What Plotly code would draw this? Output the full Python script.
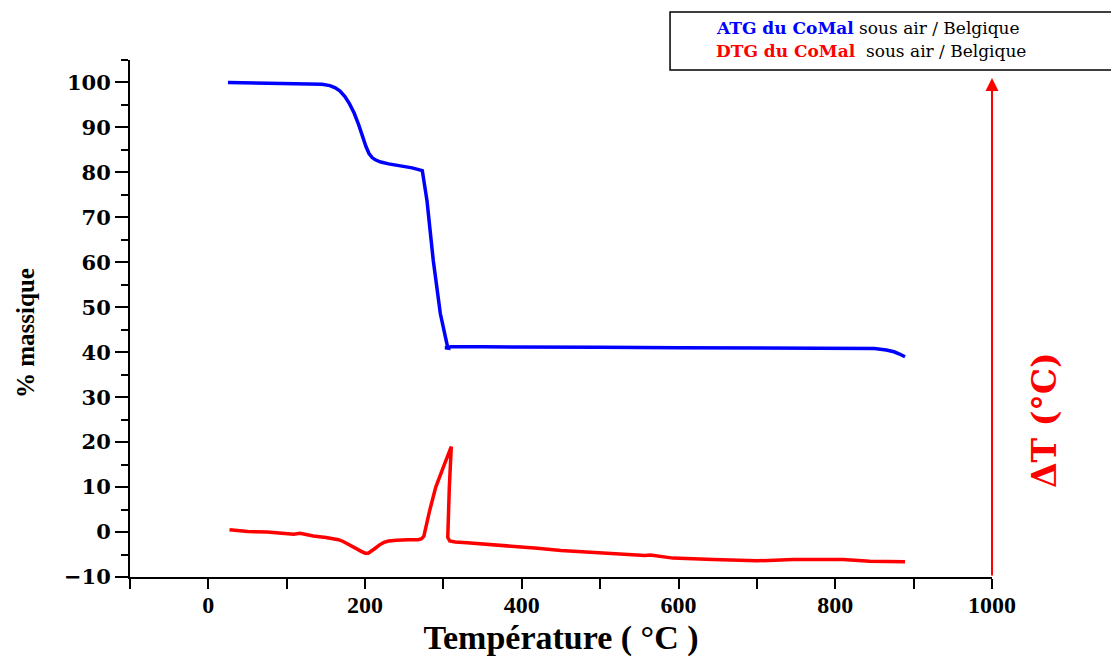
import plotly.graph_objects as go

# ATG (mass %) vs temperature
atg_T = [25, 60, 100, 134, 145, 155, 162, 168, 174, 180, 186, 192, 197, 201, 205, 209, 213, 220, 230,
         245, 260, 273, 279, 287, 296, 305, 306, 302, 310, 350, 400, 500, 600, 700, 800, 850, 865, 875, 882, 889]
atg_v = [100.0, 99.9, 99.9, 99.8, 99.6, 99.3, 98.8, 98.1, 96.9, 95.3, 93.2, 90.5, 87.8, 85.8, 84.2, 83.3, 82.8, 82.3, 81.9,
         81.5, 81.0, 80.4, 73.7, 60.4, 48.6, 41.4, 40.9, 41.0, 41.2, 41.2, 41.2, 41.1, 41.0, 40.9, 40.9, 40.8, 40.5, 40.1, 39.6, 39.0]

# DTG vs temperature
dtg_T = [27, 50, 75, 100, 109, 117, 125, 134, 150, 160, 166, 172, 178, 184, 190, 195, 200, 204, 208, 213,
         218, 224, 230, 240, 255, 268, 272, 275, 282, 290, 300, 310, 307.5, 305, 305.5, 308, 315, 330, 372,
         398, 420, 450, 496, 530, 551, 557, 564, 575, 593, 644, 700, 746, 810, 844, 889]
dtg_v = [0.5, 0.1, 0.0, -0.35, -0.5, -0.3, -0.6, -0.9, -1.2, -1.4, -1.7, -2.1, -2.6, -3.2, -3.8, -4.3, -4.7, -4.7, -4.3, -3.6,
         -2.9, -2.3, -2.0, -1.8, -1.7, -1.7, -1.5, -0.9, 4.5, 9.9, 14.5, 19.0, 10.0, 1.0, -1.2, -2.0, -2.2, -2.4, -2.9,
         -3.2, -3.6, -4.1, -4.6, -4.9, -5.1, -5.2, -5.1, -5.4, -5.8, -6.1, -6.4, -6.1, -6.1, -6.5, -6.6]

x_range = [-100, 1000]
y_range = [-10, 105]

fig = go.Figure()
fig.add_trace(go.Scatter(x=atg_T, y=atg_v, mode="lines", name="ATG du CoMal sous air / Belgique",
                         line=dict(color="#0000FF", width=3.5)))
fig.add_trace(go.Scatter(x=dtg_T, y=dtg_v, mode="lines", name="DTG du CoMal sous air / Belgique",
                         line=dict(color="#FF0000", width=3.5)))

fig.update_layout(
    width=1111, height=657, autosize=False,
    margin=dict(l=130, r=119, t=60, b=80),
    paper_bgcolor="white", plot_bgcolor="white",
    showlegend=False,
    xaxis=dict(range=x_range, showline=True, linecolor="black", linewidth=2, automargin=False,
               ticks="outside", ticklen=10, tickwidth=2, tickcolor="black",
               tick0=0, dtick=200, showgrid=False, zeroline=False, ticklabelstandoff=-5,
               minor=dict(dtick=100, ticks="outside", ticklen=10, tickwidth=2, tickcolor="black"),
               tickfont=dict(family="Liberation Serif", size=24, color="black", weight="bold"),
               title=dict(text="<b>Température ( °C )</b>", standoff=26,
                          font=dict(family="Liberation Serif", size=34, color="black"))),
    yaxis=dict(range=y_range, showline=True, linecolor="black", linewidth=2, automargin=False,
               ticks="outside", ticklen=13, tickwidth=2, tickcolor="black",
               tick0=0, dtick=10, showgrid=False, zeroline=False,
               minor=dict(dtick=5, ticks="outside", ticklen=7, tickwidth=2, tickcolor="black"),
               tickfont=dict(family="DejaVu Serif", size=21, color="black", weight="bold")),
)

# y-axis title placed as in the reference (slightly below centre)
fig.add_annotation(x=(25 - 130) / 862, y=(577 - 333) / 517, xref="paper", yref="paper",
                   xanchor="center", yanchor="middle", textangle=-90, showarrow=False,
                   text="<b>% massique</b>", font=dict(family="Liberation Serif", size=25, color="black"))

# red arrow (ΔT axis)
fig.add_annotation(x=1000, y=101, ax=1000, ay=-10, xref="x", yref="y", axref="x", ayref="y",
                   text="", showarrow=True, arrowhead=2, arrowsize=1.3, arrowwidth=2, arrowcolor="#FF0000")
fig.add_annotation(x=1.0615, y=0.3037, xref="paper", yref="paper", xanchor="center", yanchor="middle",
                   text="<b>ΔT (°C)</b>", textangle=-90, showarrow=False,
                   font=dict(family="DejaVu Serif", size=33, color="#FF0000"))

# legend box
fig.add_shape(type="rect", xref="paper", yref="paper", x0=0.6265, x1=1.2355, y0=0.9807, y1=1.0928,
              line=dict(color="black", width=1.5), fillcolor="white")
fig.add_annotation(x=0.6787, y=(577 - 28) / 517, xref="paper", yref="paper", xanchor="left", yanchor="middle",
                   showarrow=False, borderpad=0,
                   text="<span style='color:#0000FF'><b>ATG du CoMal</b></span> sous air / Belgique",
                   font=dict(family="DejaVu Serif", size=17, color="black"))
fig.add_annotation(x=0.6787, y=(577 - 51) / 517, xref="paper", yref="paper", xanchor="left", yanchor="middle",
                   showarrow=False, borderpad=0,
                   text="<span style='color:#FF0000'><b>DTG du CoMal</b></span>  sous air / Belgique",
                   font=dict(family="DejaVu Serif", size=17, color="black"))

fig.write_html("out.html")
